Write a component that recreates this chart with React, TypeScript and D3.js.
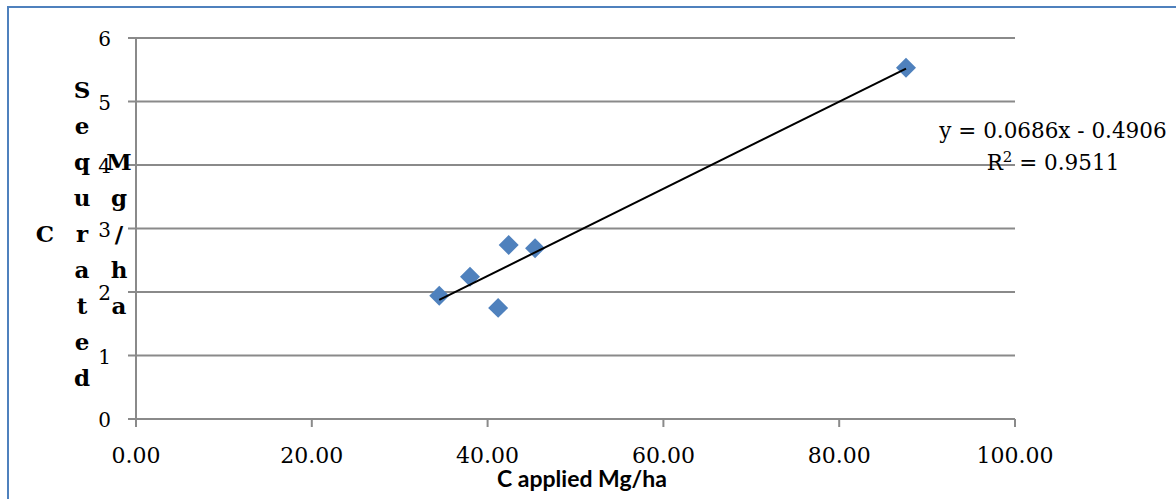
import React from 'react';
import * as d3 from 'd3';

// C applied vs C sequestrated (Mg/ha)
const cApplied = [34.5, 38.0, 41.2, 42.4, 45.4, 87.6];
const cSequestrated = [1.94, 2.24, 1.75, 2.74, 2.69, 5.53];

const xTicks = [0, 20, 40, 60, 80, 100];
const yTicks = [0, 1, 2, 3, 4, 5, 6];

const slope = 0.0686;
const intercept = -0.4906;
const rSquared = 0.9511;

// stacked y-axis title columns: [text, first row]
const yTitleCols: [string, number][] = [
  ['C', 4],
  ['Sequrated', 0],
  ['Mg/ha', 2],
];

const W = 1176;
const H = 499;

export default function App() {
  const x = d3.scaleLinear().domain([0, 100]).range([136, 1015]);
  const y = d3.scaleLinear().domain([0, 6]).range([419, 38]);

  const points = cApplied.map((v, i) => ({ x: v, y: cSequestrated[i] }));
  const [x0, x1] = d3.extent(cApplied) as [number, number];
  const trend = d3.line<number>()
    .x(d => x(d))
    .y(d => y(slope * d + intercept))([x0, x1]);

  const diamond = d3.symbol().type(d3.symbolSquare).size(200)();

  // title letters: one per row
  const rowY = (r: number) => 98 + r * 36;
  const colX = [45, 82, 119];

  const gridColor = '#8a8a8a';
  const numFont = '"DejaVu Serif", serif';

  return (
    <svg width={W} height={H} style={{ position: 'absolute', left: 0, top: 0, background: '#fff' }}>
      <rect x={8} y={7} width={W + 50} height={H + 50} fill="#fff" stroke="#4f81bd" strokeWidth={2} />

      {/* horizontal gridlines with tick stubs */}
      {yTicks.map(t => (
        <line key={'g' + t} x1={128} x2={x(100)} y1={y(t)} y2={y(t)} stroke={gridColor} strokeWidth={2} />
      ))}
      {/* y axis */}
      <line x1={x(0)} x2={x(0)} y1={y(6)} y2={y(0)} stroke={gridColor} strokeWidth={2} />
      {/* x ticks */}
      {xTicks.map(t => (
        <line key={'xt' + t} x1={x(t)} x2={x(t)} y1={y(0)} y2={y(0) + 8} stroke={gridColor} strokeWidth={2} />
      ))}

      {/* y tick labels */}
      {yTicks.map(t => (
        <text key={'yl' + t} x={111} y={y(t) + 8} textAnchor="end" fontFamily={numFont} fontSize={20} fill="#000">
          {t}
        </text>
      ))}
      {/* x tick labels */}
      {xTicks.map(t => (
        <text key={'xl' + t} x={x(t)} y={463} textAnchor="middle" fontFamily={numFont} fontSize={22} fill="#000">
          {d3.format('.2f')(t)}
        </text>
      ))}

      {/* x axis title */}
      <text x={582} y={487} textAnchor="middle" fontFamily="Lato, sans-serif" fontWeight="bold" fontSize={23} fill="#000">
        C applied Mg/ha
      </text>

      {/* stacked y axis title */}
      {yTitleCols.map(([txt, start], ci) =>
        txt.split('').map((ch, i) => (
          <text key={ci + '-' + i} x={colX[ci]} y={rowY(start + i)} textAnchor="middle"
            fontFamily={numFont} fontWeight="bold" fontSize={23} fill="#000">
            {ch}
          </text>
        ))
      )}

      {/* markers */}
      {points.map((p, i) => (
        <path key={'p' + i} d={diamond || ''} transform={`translate(${x(p.x)},${y(p.y)}) rotate(45)`} fill="#4f81bd" />
      ))}

      {/* linear trendline */}
      <path d={trend || ''} fill="none" stroke="#000" strokeWidth={2} />

      {/* equation */}
      <text x={1053} y={138} textAnchor="middle" fontFamily={numFont} fontSize={21.5} fill="#000">
        {`y = ${slope}x - ${Math.abs(intercept)}`}
      </text>
      <text x={1053} y={170} textAnchor="middle" fontFamily={numFont} fontSize={21.5} fill="#000">
        R<tspan fontSize={15} dy={-8}>2</tspan><tspan dy={8}>{` = ${rSquared}`}</tspan>
      </text>
    </svg>
  );
}
